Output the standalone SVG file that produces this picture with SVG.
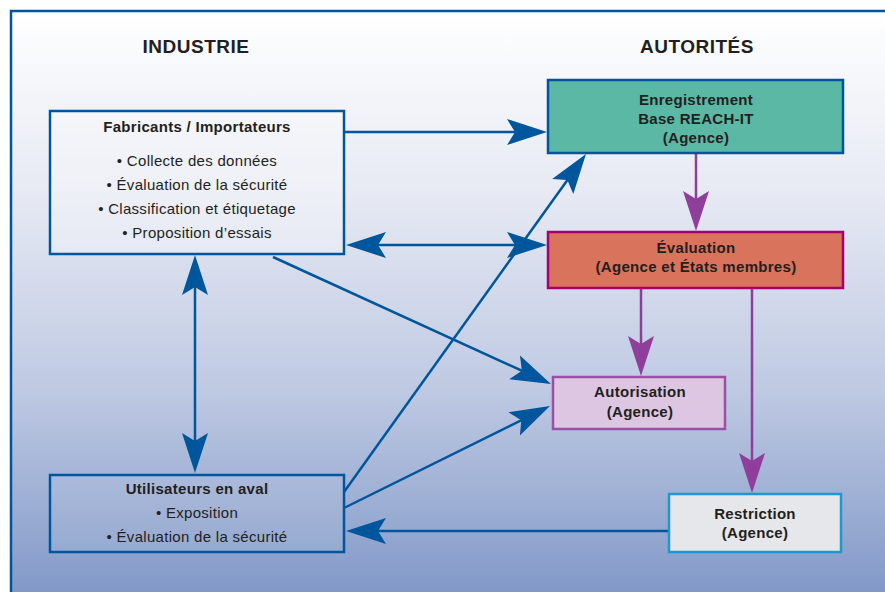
<svg xmlns="http://www.w3.org/2000/svg" width="885" height="592" viewBox="0 0 885 592">
<defs>
<linearGradient id="bg" x1="0" y1="0" x2="0" y2="1">
<stop offset="0" stop-color="#ffffff"/>
<stop offset="0.3" stop-color="#e6e9f3"/>
<stop offset="0.62" stop-color="#bdc8e2"/>
<stop offset="1" stop-color="#7690c3"/>
</linearGradient>
<marker id="ab" markerUnits="userSpaceOnUse" markerWidth="50" markerHeight="30" viewBox="-40 -15 50 30" refX="0" refY="0" orient="auto-start-reverse" overflow="visible">
<path d="M6,0 L-34,-13 L-26,0 L-34,13 Z" fill="#00569c"/>
</marker>
<marker id="ap" markerUnits="userSpaceOnUse" markerWidth="50" markerHeight="30" viewBox="-40 -15 50 30" refX="0" refY="0" orient="auto" overflow="visible">
<path d="M6,0 L-34,-13 L-26,0 L-34,13 Z" fill="#8f3f9b"/>
</marker>
</defs>
<style>
.hd{font-family:"Liberation Sans",Arial,sans-serif;font-weight:bold;font-size:19px;fill:#231f20;letter-spacing:0.5px;text-anchor:middle}
.t{font-family:"Liberation Sans",Arial,sans-serif;font-weight:bold;font-size:15px;fill:#231f20;text-anchor:middle;letter-spacing:0.3px}
.b{font-family:"Liberation Sans",Arial,sans-serif;font-size:15px;fill:#231f20;text-anchor:middle;letter-spacing:0.3px}
.lb{fill:none;stroke:#00569c;stroke-width:2.5}
.lp{fill:none;stroke:#8f3f9b;stroke-width:2.5}
</style>
<rect x="0" y="0" width="885" height="592" fill="#ffffff"/>
<rect x="11" y="11" width="900" height="620" fill="url(#bg)" stroke="#00569c" stroke-width="2.5"/>
<text class="hd" x="196" y="53">INDUSTRIE</text>
<text class="hd" x="697" y="53">AUTORITÉS</text>
<g id="connectors">
<line class="lb" x1="344" y1="132" x2="541" y2="132" marker-end="url(#ab)"/>
<line class="lb" x1="352" y1="245" x2="541" y2="245" marker-start="url(#ab)" marker-end="url(#ab)"/>
<line class="lb" x1="273" y1="257" x2="545.5" y2="381.5" marker-end="url(#ab)"/>
<line class="lb" x1="344" y1="492" x2="582.5" y2="158.9" marker-end="url(#ab)"/>
<line class="lb" x1="344" y1="508" x2="544.6" y2="408.7" marker-end="url(#ab)"/>
<line class="lb" x1="669" y1="531" x2="352" y2="531" marker-end="url(#ab)"/>
<line class="lb" x1="195" y1="261" x2="195" y2="467" marker-start="url(#ab)" marker-end="url(#ab)"/>
<line class="lp" x1="696" y1="154" x2="696" y2="225" marker-end="url(#ap)"/>
<line class="lp" x1="641" y1="289" x2="641" y2="370" marker-end="url(#ap)"/>
<line class="lp" x1="752" y1="289" x2="752" y2="487" marker-end="url(#ap)"/>
</g>
<g id="fabricants">
<rect x="50" y="111" width="294" height="143" fill="#ffffff" fill-opacity="0.3" stroke="#00569c" stroke-width="2.5"/>
<text class="t" x="197" y="132">Fabricants / Importateurs</text>
<text class="b" x="197" y="166">• Collecte des données</text>
<text class="b" x="197" y="190">• Évaluation de la sécurité</text>
<text class="b" x="197" y="214">• Classification et étiquetage</text>
<text class="b" x="197" y="238">• Proposition d’essais</text>
</g>
<g id="utilisateurs">
<rect x="50" y="475" width="294" height="77" fill="#ffffff" fill-opacity="0.08" stroke="#00569c" stroke-width="2.5"/>
<text class="t" x="197" y="494">Utilisateurs en aval</text>
<text class="b" x="197" y="518">• Exposition</text>
<text class="b" x="197" y="542">• Évaluation de la sécurité</text>
</g>
<g id="enregistrement">
<rect x="548" y="80" width="295" height="73" fill="#5bb8a5" stroke="#00569c" stroke-width="2.5"/>
<text class="t" x="696" y="105">Enregistrement</text>
<text class="t" x="696" y="124">Base REACH-IT</text>
<text class="t" x="696" y="143">(Agence)</text>
</g>
<g id="evaluation">
<rect x="548" y="232" width="295" height="56" fill="#d9735c" stroke="#a5006d" stroke-width="2.5"/>
<text class="t" x="696" y="253">Évaluation</text>
<text class="t" x="696" y="272">(Agence et États membres)</text>
</g>
<g id="autorisation">
<rect x="553" y="377" width="172" height="52" fill="#dcc6e1" stroke="#9b4fa7" stroke-width="2.5"/>
<text class="t" x="640" y="397">Autorisation</text>
<text class="t" x="640" y="417">(Agence)</text>
</g>
<g id="restriction">
<rect x="669" y="494" width="172" height="58" fill="#e6e7ea" stroke="#1e98d3" stroke-width="2.5"/>
<text class="t" x="755" y="519">Restriction</text>
<text class="t" x="755" y="538">(Agence)</text>
</g>
</svg>
